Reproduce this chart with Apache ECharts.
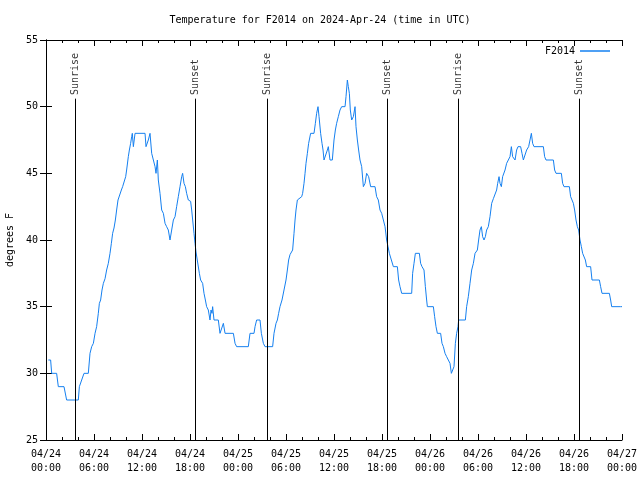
<!DOCTYPE html>
<html>
<head>
<meta charset="utf-8">
<script src="https://cdn.jsdelivr.net/npm/echarts@6/dist/echarts.min.js"></script>
<style>html,body{margin:0;padding:0;background:#fff;}#c{width:640px;height:480px;}</style>
</head>
<body>
<div id="c"></div>
<script>
// hours since 2024-04-24 00:00 UTC
const hours = [0.29,0.58,0.71,1.33,1.54,2.25,2.58,4.04,4.17,4.46,4.75,5.29,5.5,5.71,5.92,6.13,6.33,6.54,6.67,6.83,7.0,7.17,7.38,7.58,7.79,8.0,8.17,8.33,8.5,8.67,8.83,9.0,9.25,9.42,9.58,9.79,9.96,10.08,10.29,10.42,10.58,10.71,10.79,10.92,11.13,12.38,12.5,12.67,12.79,13.0,13.21,13.42,13.63,13.75,13.92,14.04,14.25,14.46,14.67,14.88,15.08,15.29,15.5,15.71,15.92,16.13,16.33,16.54,16.75,16.96,17.08,17.25,17.42,17.58,17.79,18.08,18.21,18.5,18.63,18.75,19.0,19.17,19.33,19.58,19.75,19.92,20.08,20.29,20.5,20.63,20.75,20.83,21.0,21.54,21.75,22.0,22.17,22.38,23.42,23.63,23.83,25.29,25.5,26.0,26.13,26.33,26.75,26.92,27.17,27.38,28.33,28.5,28.75,28.92,29.08,29.25,29.5,29.75,30.0,30.17,30.33,30.5,30.83,31.0,31.13,31.25,31.42,31.96,32.08,32.25,32.38,32.5,32.67,32.83,33.08,33.5,33.67,33.83,34.0,34.13,34.33,34.5,34.63,34.75,35.0,35.17,35.29,35.5,35.79,36.0,36.17,36.33,36.54,36.75,36.96,37.38,37.5,37.67,37.79,37.92,38.04,38.21,38.42,38.63,38.75,38.92,39.08,39.25,39.46,39.67,39.88,40.08,40.33,40.58,41.13,41.33,41.54,41.75,41.96,42.17,42.38,42.58,42.75,42.92,43.17,43.42,43.92,44.08,44.25,44.46,45.71,45.83,46.0,46.17,46.67,46.83,47.0,47.25,47.42,47.58,47.67,48.42,48.58,48.75,48.92,49.33,49.5,49.67,49.88,50.08,50.29,50.5,50.67,50.92,51.0,51.17,51.33,51.5,51.58,52.42,52.58,52.79,53.0,53.21,53.42,53.63,53.92,54.08,54.25,54.42,54.58,54.75,54.92,55.08,55.29,55.5,55.71,55.92,56.13,56.33,56.46,56.63,56.75,56.92,57.08,57.38,57.58,57.79,58.0,58.17,58.33,58.63,58.83,59.0,59.33,59.5,59.67,59.92,60.08,60.33,60.5,60.67,60.83,61.0,62.17,62.33,62.5,63.42,63.58,63.75,64.42,64.58,64.75,65.42,65.58,65.75,65.92,66.08,66.25,66.42,66.58,66.75,66.92,67.08,67.25,67.42,67.58,68.08,68.25,69.17,69.33,69.5,70.42,70.58,70.71,71.83,72.0];
const temps = [31,31,30,30,29,29,28,28,29,29.5,30,30,31.5,32,32.25,33,33.5,34.5,35.25,35.5,36.25,36.75,37.1,37.75,38.25,39,39.75,40.5,40.9,41.5,42.25,43,43.1,43.75,44,44.1,44.75,45.25,46.25,46.75,47.25,47.75,48,47,48,48,47,47,47.5,48,46.5,46,45.5,45,46,44.5,43.5,42.25,42,41.25,41,40.75,40,40.75,41.5,41.75,42.5,43.25,44,44.75,45,44.25,44,43.5,43,42.9,42.25,40.5,39.75,39.1,39,37.5,37,36.75,36,35.5,35,34.75,34,34.75,34.5,35,34,34,33,33,33.75,33,33,32.25,32,32,33,33,33.5,34,34,33,32.25,32,32,33,33.75,34,34.5,35,35.5,36.25,37,37.75,38.5,38.9,39.25,40.5,41.5,42.25,43,43.25,43.5,44.25,45,45.75,46.5,47.25,48,48,48.75,49.5,50,49.25,48,47.25,46.75,46,46,46.75,47,46,46,47.5,48.25,48.75,49.25,49.75,50,50,50.75,52,51.5,51,49.75,49,49.25,50,48.5,47.5,46.75,46,45.5,44,44.25,45,44.75,44,44,43.25,43,42.25,42,41.5,41,40,39.5,39,38.5,38,38,37,36.5,36,36,37.5,38.25,39,39,38.25,38,37.75,36.5,35.5,35,35,34.25,33.5,33,33,32.25,32,31.5,31.25,31,30.75,30,30,30.5,32.25,33,33.5,34,34,35,35.75,36.75,37.75,38.25,39,39.25,40,40.75,41,40.25,40,40.25,40.75,41,41.75,42.75,43.1,43.25,43.75,44.25,44.75,44.25,44,44.75,45.25,45.75,46,46.25,47,46.25,46,46.75,47,47,46.5,46,46,46.75,47,47.5,48,47.25,47,47,46.25,46,46,45.25,45,45,44.25,44,44,43.25,43,42.75,42.25,41.5,41,40.75,40,39.5,39,39,38.5,38,38,37,37,36.5,36,36,35.5,35,35,35];
const eventNames = ['Sunrise','Sunset','Sunrise','Sunset','Sunrise','Sunset'];
const eventHours = [3.63, 18.63, 27.63, 42.63, 51.5, 66.63];
const xTickLabels = ['04/24\n00:00','04/24\n06:00','04/24\n12:00','04/24\n18:00','04/25\n00:00','04/25\n06:00','04/25\n12:00','04/25\n18:00','04/26\n00:00','04/26\n06:00','04/26\n12:00','04/26\n18:00','04/27\n00:00'];
const yTicks = [25,30,35,40,45,50,55];
const seriesName = 'F2014';
const titleText = 'Temperature for F2014 on 2024-Apr-24 (time in UTC)';
const yName = 'degrees F';

const FONT = 'DejaVu Sans Mono';
const chart = echarts.init(document.getElementById('c'), null, {renderer: 'canvas'});
const lineTop = 50.6, labelAnchor = 50.87;
const axisCommon = {
  axisLine: {show: true, lineStyle: {color: '#000', width: 1}},
  splitLine: {show: false}
};
chart.setOption({
  animation: false,
  backgroundColor: '#fff',
  title: {text: titleText, left: 'center', top: 10,
    textStyle: {fontFamily: FONT, fontSize: 10, fontWeight: 'normal', color: '#000'}},
  legend: {data: [seriesName], right: 25, top: 41, align: 'right', icon: 'rect',
    itemWidth: 30, itemHeight: 1.5, itemGap: 6,
    textStyle: {fontFamily: FONT, fontSize: 10, color: '#000', padding: [0, 0, 0, 0]}},
  grid: {left: 46, right: 18, top: 40, bottom: 40, containLabel: false, outerBoundsMode: 'none'},
  xAxis: [
    Object.assign({type: 'value', min: 0, max: 72, interval: 6, position: 'bottom',
      axisTick: {show: true, inside: true, length: 6, lineStyle: {color: '#000'}},
      minorTick: {show: true, splitNumber: 3, length: 3, lineStyle: {color: '#000'}},
      axisLabel: {fontFamily: FONT, fontSize: 10, color: '#000', margin: 7, lineHeight: 14,
        formatter: v => xTickLabels[Math.round(v / 6)]}}, axisCommon),
    Object.assign({type: 'value', min: 0, max: 72, interval: 6, position: 'top',
      axisTick: {show: true, inside: true, length: 6, lineStyle: {color: '#000'}},
      minorTick: {show: true, splitNumber: 3, length: 3, lineStyle: {color: '#000'}},
      axisLabel: {show: false}}, axisCommon)
  ],
  yAxis: [
    Object.assign({type: 'value', min: yTicks[0], max: yTicks[yTicks.length - 1], interval: 5, position: 'left',
      name: yName, nameLocation: 'middle', nameRotate: 90, nameGap: 31,
      nameTextStyle: {fontFamily: FONT, fontSize: 10, color: '#000'},
      axisTick: {show: true, inside: true, length: 6, lineStyle: {color: '#000'}},
      axisLabel: {fontFamily: FONT, fontSize: 10, color: '#000', margin: 8}}, axisCommon),
    Object.assign({type: 'value', min: yTicks[0], max: yTicks[yTicks.length - 1], interval: 5, position: 'right',
      axisTick: {show: true, inside: true, length: 6, lineStyle: {color: '#000'}},
      axisLabel: {show: false}}, axisCommon)
  ],
  series: [
    {
      name: seriesName, type: 'line', xAxisIndex: 0, yAxisIndex: 0,
      data: hours.map((h, i) => [h, temps[i]]),
      showSymbol: false, symbol: 'none',
      lineStyle: {color: '#1580f0', width: 1},
      itemStyle: {color: '#1580f0'},
      z: 3
    },
    {
      name: 'events', type: 'scatter', xAxisIndex: 0, yAxisIndex: 0,
      data: eventHours.map((h, i) => ({value: [h, labelAnchor], name: eventNames[i]})),
      symbolSize: 0, silent: true,
      label: {show: true, position: 'inside', rotate: 90, align: 'left', verticalAlign: 'middle',
        formatter: p => p.name, fontFamily: FONT, fontSize: 10, color: '#000'},
      markLine: {
        silent: true, symbol: 'none', animation: false,
        lineStyle: {color: '#000', width: 1, type: 'solid'},
        label: {show: false},
        emphasis: {disabled: true},
        data: eventHours.map(h => [{coord: [h, yTicks[0]]}, {coord: [h, lineTop]}])
      },
      z: 2
    }
  ]
});
</script>
</body>
</html>
